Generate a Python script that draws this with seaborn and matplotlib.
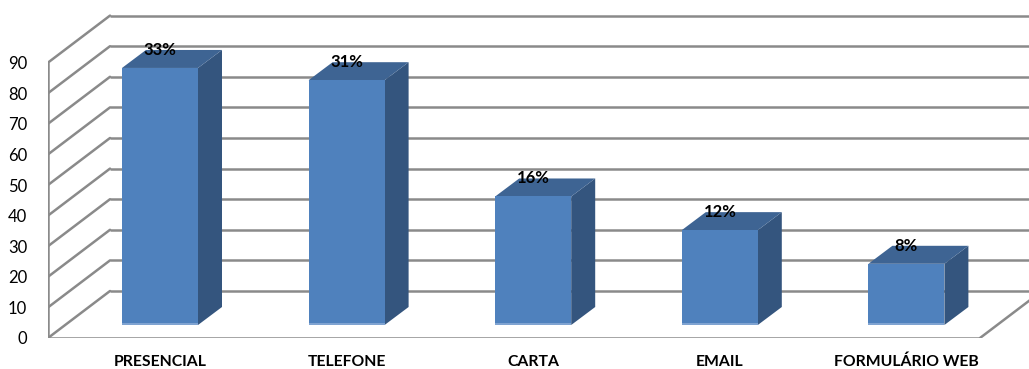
import numpy as np
import pandas as pd
import matplotlib
matplotlib.use("Agg")
import matplotlib.pyplot as plt
from matplotlib.patches import Polygon
import seaborn as sns

categories = ["PRESENCIAL", "TELEFONE", "CARTA", "EMAIL", "FORMULÁRIO WEB"]
values = [84, 80, 42, 31, 20]
pct_labels = ["33%", "31%", "16%", "12%", "8%"]
y_ticks = [0, 10, 20, 30, 40, 50, 60, 70, 80, 90]

sns.set_theme(style="white")
plt.rcParams['font.family'] = ['Lato', 'DejaVu Sans']

W, H = 1029, 369
fig = plt.figure(figsize=(W / 100, H / 100), dpi=100)

# geometry in pixels (layout only)
ax_left_px, ax_bottom_px = 48, 338
px_per_cat = 186.6
px_per_val = 3.06
first_center_px = 160
bar_plane_zero_px = 325

ax = fig.add_axes([ax_left_px / W, (H - ax_bottom_px) / H, 1 - ax_left_px / W, ax_bottom_px / H])
x0 = (ax_left_px - first_center_px) / px_per_cat
x1 = (W - first_center_px) / px_per_cat
y0 = -(ax_bottom_px - bar_plane_zero_px) / px_per_val
y1 = bar_plane_zero_px / px_per_val

df = pd.DataFrame({"cat": categories, "val": values})

# offsets (data units)
front_dx, front_dy = -17 / px_per_cat, -13 / px_per_val
back_dx, back_dy = 45 / px_per_cat, 34 / px_per_val
depth_dx, depth_dy = 24 / px_per_cat, 18 / px_per_val

grid_c = "#8a8a8a"
lw = 1.8

# back wall gridlines
for v in y_ticks:
    ax.plot([x0 + (back_dx - front_dx), x1 + 1], [v + back_dy, v + back_dy],
            color=grid_c, lw=lw, zorder=1, solid_capstyle="butt")
# left wall diagonals
for v in y_ticks:
    ax.plot([x0, x0 + (back_dx - front_dx)], [v + front_dy, v + back_dy],
            color=grid_c, lw=lw, zorder=1)
# left wall front edge
ax.plot([x0, x0], [front_dy, y_ticks[-1] + front_dy], color=grid_c, lw=lw, zorder=1)
# floor front edge and right diagonal
floor_right = (980 - first_center_px) / px_per_cat
ax.plot([x0, floor_right], [front_dy, front_dy], color=grid_c, lw=lw, zorder=1)
ax.plot([floor_right, floor_right + (back_dx - front_dx)], [front_dy, back_dy],
        color=grid_c, lw=lw, zorder=1)

front_c = "#4F81BD"
side_c = "#34557E"
top_c = "#3E6493"

bar_w = 76 / px_per_cat
sns.barplot(data=df, x="cat", y="val", color=front_c, saturation=1, width=bar_w,
            ax=ax, zorder=3, linewidth=0)

for p, lab in zip(ax.patches, pct_labels):
    bx, bw, bh = p.get_x(), p.get_width(), p.get_height()
    side = Polygon([(bx + bw, 0), (bx + bw + depth_dx, depth_dy),
                    (bx + bw + depth_dx, bh + depth_dy), (bx + bw, bh)],
                   closed=True, facecolor=side_c, edgecolor="none", zorder=2.5)
    top = Polygon([(bx, bh), (bx + bw, bh), (bx + bw + depth_dx, bh + depth_dy),
                   (bx + depth_dx, bh + depth_dy)],
                  closed=True, facecolor=top_c, edgecolor="none", zorder=2.5)
    ax.add_patch(side)
    ax.add_patch(top)
    # light strip at bottom of front face
    ax.add_patch(plt.Rectangle((bx, 0), bw, 2 / px_per_val, facecolor="#7FA3D1",
                               edgecolor="none", zorder=3.5))
    ax.text(bx + bw / 2, bh + depth_dy, lab, ha="center", va="center",
            fontsize=12, fontweight="bold", color="black", zorder=5)

ax.set_xlim(x0, x1)
ax.set_ylim(y0, y1)
for s in ax.spines.values():
    s.set_visible(False)
ax.set_xlabel("")
ax.set_ylabel("")
ax.set_yticks([v + front_dy for v in y_ticks], labels=[str(v) for v in y_ticks])
ax.tick_params(axis="y", length=0, pad=15, labelsize=12, labelcolor="black")
ax.tick_params(axis="x", length=0, pad=12, labelsize=11.3, labelcolor="black")
for t in ax.get_xticklabels():
    t.set_fontweight("bold")
ax.grid(False)
ax.set_facecolor("white")

fig.savefig("out.png", dpi=100)
